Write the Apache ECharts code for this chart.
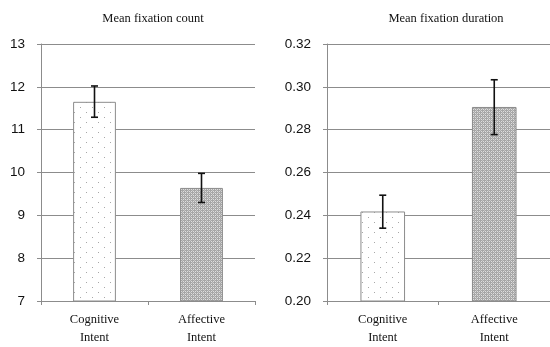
<!DOCTYPE html>
<html>
<head>
<meta charset="utf-8">
<script src="https://cdn.jsdelivr.net/npm/echarts@6/dist/echarts.min.js"></script>
<style>
  html, body { margin: 0; padding: 0; background: #fff; }
  #chart { width: 550px; height: 347px; }
</style>
</head>
<body>
<div id="chart"></div>
<script>
// data
const categories = ['Cognitive\nIntent', 'Affective\nIntent'];
const countMean = [11.65, 9.64];
const countLow = [11.29, 9.30];
const countHigh = [12.02, 9.98];
const durationMean = [0.2418, 0.2906];
const durationLow = [0.2340, 0.2777];
const durationHigh = [0.2494, 0.3033];
const countTicks = [7, 13, 1];
const durationTicks = [0.20, 0.32, 0.02];

// bar fill patterns
function makeTile(w, h, draw) {
  const c = document.createElement('canvas');
  c.width = w; c.height = h;
  draw(c.getContext('2d'));
  return c;
}
const dotTile = makeTile(12, 10, (ctx) => {
  ctx.fillStyle = '#fff';
  ctx.fillRect(0, 0, 12, 10);
  ctx.fillStyle = '#a8a8a8';
  ctx.fillRect(2, 2, 1, 1);
  ctx.fillRect(8, 7, 1, 1);
});
const checkTile = makeTile(4, 4, (ctx) => {
  ctx.fillStyle = '#a6a6a6';
  ctx.fillRect(0, 0, 4, 4);
  ctx.fillStyle = '#dedede';
  ctx.fillRect(1, 1, 1, 1);
  ctx.fillRect(3, 3, 1, 1);
  ctx.fillRect(1, 3, 1, 1);
  ctx.fillRect(3, 1, 1, 1);
  ctx.fillStyle = '#c4c4c4';
  ctx.fillRect(0, 2, 1, 1);
  ctx.fillRect(2, 0, 1, 1);
});
const fills = [
  { image: dotTile, repeat: 'repeat' },
  { image: checkTile, repeat: 'repeat' }
];

const chart = echarts.init(document.getElementById('chart'));

const serif = '"Liberation Serif", "DejaVu Serif", serif';
const sans = '"Liberation Sans", Arial, sans-serif';

function xAxisFor(idx) {
  return {
    type: 'category',
    gridIndex: idx,
    data: categories,
    axisLine: { lineStyle: { color: '#8c8c8c', width: 1 } },
    axisTick: { show: true, length: 4, lineStyle: { color: '#8c8c8c' } },
    axisLabel: { fontFamily: serif, fontSize: 12.5, color: '#111', lineHeight: 18, margin: 10 }
  };
}
function yAxisFor(idx, ticks, fmt) {
  return {
    type: 'value',
    gridIndex: idx,
    min: ticks[0],
    max: ticks[1],
    interval: ticks[2],
    axisLine: { show: true, lineStyle: { color: '#8c8c8c', width: 1 } },
    axisTick: { show: true, length: 4, lineStyle: { color: '#8c8c8c' } },
    splitLine: { lineStyle: { color: '#8c8c8c', width: 1.2 } },
    axisLabel: { fontFamily: sans, fontSize: 13.5, color: '#111', margin: 16, formatter: fmt }
  };
}
function errorSeries(idx, low, high) {
  return {
    type: 'custom',
    xAxisIndex: idx,
    yAxisIndex: idx,
    data: low.map((v, i) => [i, v, high[i]]),
    z: 10,
    renderItem: (params, api) => {
      const top = api.coord([api.value(0), api.value(2)]);
      const bot = api.coord([api.value(0), api.value(1)]);
      const cap = 3.5;
      const style = { stroke: '#111', lineWidth: 1.6 };
      return {
        type: 'group',
        children: [
          { type: 'line', shape: { x1: top[0], y1: top[1], x2: bot[0], y2: bot[1] }, style },
          { type: 'line', shape: { x1: top[0] - cap, y1: top[1], x2: top[0] + cap, y2: top[1] }, style },
          { type: 'line', shape: { x1: bot[0] - cap, y1: bot[1], x2: bot[0] + cap, y2: bot[1] }, style }
        ]
      };
    }
  };
}
function barSeries(idx, values) {
  return {
    type: 'bar',
    xAxisIndex: idx,
    yAxisIndex: idx,
    barWidth: '40%',
    data: values.map((v, i) => ({
      value: v,
      itemStyle: { color: fills[i], borderColor: '#8c8c8c', borderWidth: 1 }
    }))
  };
}

chart.setOption({
  animation: false,
  title: [
    { text: 'Mean fixation count', left: 148, top: 7, textAlign: 'center',
      textStyle: { fontFamily: serif, fontSize: 12.5, fontWeight: 'normal', color: '#111' } },
    { text: 'Mean fixation duration', left: 441, top: 7, textAlign: 'center',
      textStyle: { fontFamily: serif, fontSize: 12.5, fontWeight: 'normal', color: '#111' } }
  ],
  grid: [
    { left: 41, top: 44, width: 214, height: 258 },
    { left: 327, top: 44, width: 228, height: 258 }
  ],
  xAxis: [xAxisFor(0), xAxisFor(1)],
  yAxis: [
    yAxisFor(0, countTicks, (v) => String(v)),
    yAxisFor(1, durationTicks, (v) => v.toFixed(2))
  ],
  series: [
    barSeries(0, countMean),
    errorSeries(0, countLow, countHigh),
    barSeries(1, durationMean),
    errorSeries(1, durationLow, durationHigh)
  ]
});
</script>
</body>
</html>
